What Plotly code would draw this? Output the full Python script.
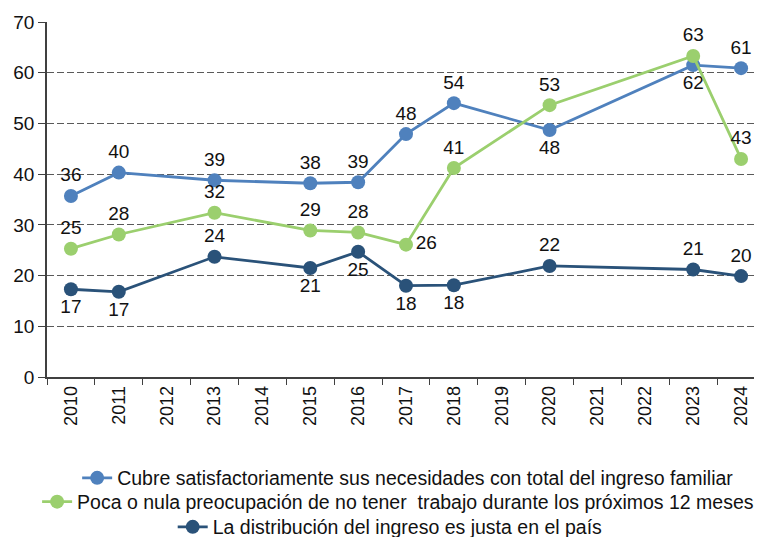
import plotly.graph_objects as go

years = [str(y) for y in range(2010, 2025)]
obs_years = ["2010", "2011", "2013", "2015", "2016", "2017", "2018", "2020", "2023", "2024"]

cubre = [35.7, 40.3, 38.8, 38.2, 38.4, 47.9, 54.0, 48.7, 61.5, 60.9]
cubre_lbl = ["36", "40", "39", "38", "39", "48", "54", "48", "62", "61"]
cubre_pos = ["top center"] * 7 + ["bottom center", "bottom center", "top center"]

poca = [25.3, 28.1, 32.4, 28.9, 28.5, 26.1, 41.2, 53.6, 63.3, 43.0]
poca_lbl = ["25", "28", "32", "29", "28", "26", "41", "53", "63", "43"]
poca_pos = ["top center"] * 5 + ["middle right"] + ["top center"] * 4

justa = [17.3, 16.8, 23.7, 21.5, 24.7, 18.0, 18.1, 21.9, 21.2, 19.9]
justa_lbl = ["17", "17", "24", "21", "25", "18", "18", "22", "21", "20"]
justa_pos = ["bottom center", "bottom center", "top center", "bottom center", "bottom center",
             "bottom center", "bottom center", "top center", "top center", "top center"]

names = [
    "Cubre satisfactoriamente sus necesidades con total del ingreso familiar",
    "Poca o nula preocupación de no tener  trabajo durante los próximos 12 meses",
    "La distribución del ingreso es justa en el país",
]
colors = ["#4F81BD", "#9BCF6E", "#2A5279"]

FONT = "Liberation Sans, Arial, sans-serif"

fig = go.Figure()
series = [(cubre, cubre_lbl, cubre_pos), (poca, poca_lbl, poca_pos), (justa, justa_lbl, justa_pos)]
legends = ["legend", "legend2", "legend3"]
for (vals, lbl, pos), name, clr, lg in zip(series, names, colors, legends):
    fig.add_trace(go.Scatter(
        x=obs_years, y=vals, name=name, mode="lines+markers+text",
        text=lbl, textposition=pos, textfont=dict(size=19, color="#111111", family=FONT),
        line=dict(color=clr, width=2.8), marker=dict(size=14, color=clr),
        legend=lg, cliponaxis=False, showlegend=True,
    ))

# page body has an 8px margin, so the plot box is shifted by -8px here
leg = dict(orientation="h", xanchor="center", yanchor="middle", bgcolor="rgba(0,0,0,0)",
           font=dict(size=19.5, color="#111111", family=FONT), itemwidth=30)
fig.update_layout(
    width=762, height=537, showlegend=True,
    margin=dict(l=39, r=5, t=14, b=168, autoexpand=False),
    plot_bgcolor="white", paper_bgcolor="white",
    font=dict(family=FONT, size=19, color="#111111"),
    legend=dict(leg, x=0.503, y=-0.285),
    legend2=dict(leg, x=0.489, y=-0.352),
    legend3=dict(leg, x=0.478, y=-0.423),
    xaxis=dict(type="category", categoryorder="array", categoryarray=years,
               range=[-0.5, 14.5], tickangle=-90, ticks="outside", tickson="boundaries",
               ticklen=6, tickcolor="#404040", showline=True, linecolor="#404040", linewidth=1.5,
               showgrid=False, tickfont=dict(size=18)),
    yaxis=dict(range=[0, 70], dtick=10, ticks="outside", ticklen=7, tickcolor="#404040",
               showline=True, linecolor="#404040", linewidth=1.5,
               showgrid=True, gridcolor="#5a5a5a", gridwidth=1, griddash="7px,3px",
               zeroline=False, tickfont=dict(size=19)),
)

fig.write_html("out.html")
